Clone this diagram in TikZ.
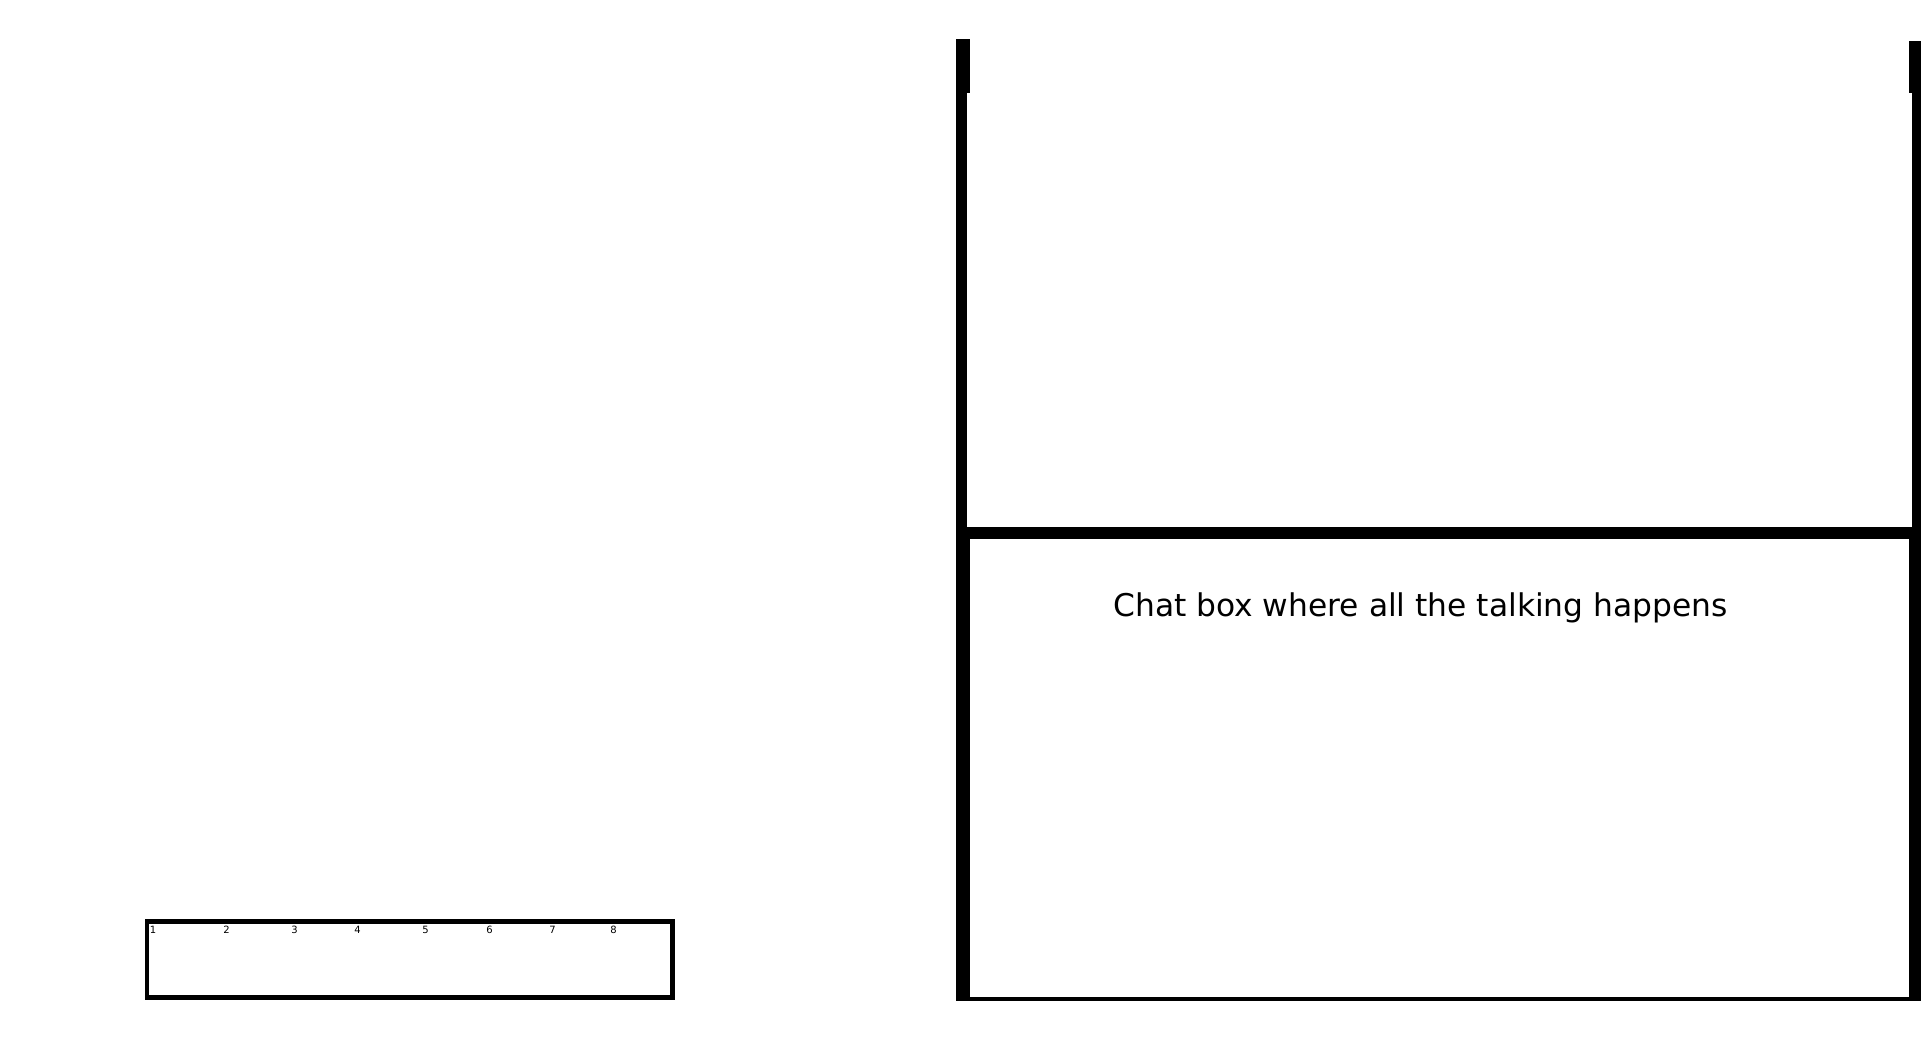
\documentclass[tikz,border=0pt]{standalone}
\usepackage{fontspec}
\setmainfont{DejaVu Sans}
\usetikzlibrary{positioning}
\tikzset{wall/.style={fill=black},
  slot/.style={font=\fontsize{10}{12}\selectfont, anchor=base, inner sep=0pt},
  hotbar/.style={draw, line width=4.5pt, inner sep=0pt, minimum width=525.5pt, minimum height=76pt}}

\begin{document}
\begin{tikzpicture}[x=1pt,y=-1pt]
   \useasboundingbox (0,0) rectangle (1921,1041);
   \node[hotbar] (bar) at (409.75,959.5) {};
   \foreach \n/\x in {1/153,2/226.5,3/294.5,4/357.5,5/425.5,6/489.5,7/552.5,8/613.5}
      \node[slot] (slot\n) at (\x,933) {\n};
   \fill[wall] (956,39) rectangle (970,93);
   \fill[wall] (956,93) rectangle (967,527);
   \fill[wall] (956,527) rectangle (970,1001);
   \fill[wall] (1909,41) rectangle (1921,93);
   \fill[wall] (1912,93) rectangle (1921,527);
   \fill[wall] (1909,527) rectangle (1921,1001);
   \fill[wall] (967,527) rectangle (1912,539);
   \fill[wall] (970,997) rectangle (1909,1001);
   \node[font=\fontsize{31.3}{37}\selectfont, anchor=base, inner sep=0pt] (chat) at (1420.5,616) {Chat box where all the talking happens};
\end{tikzpicture}
\end{document}
